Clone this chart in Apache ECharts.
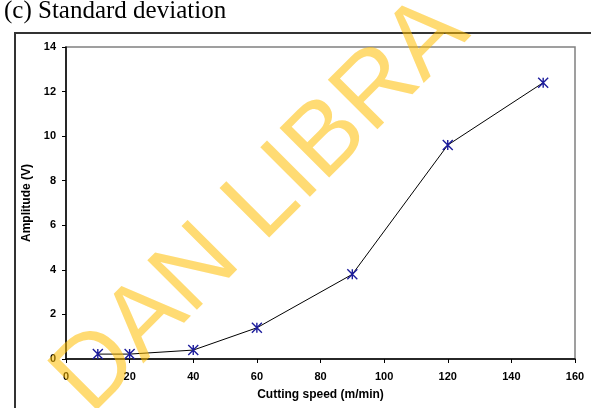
<!DOCTYPE html>
<html>
<head>
<meta charset="utf-8">
<script src="https://cdn.jsdelivr.net/npm/echarts@6/dist/echarts.min.js"></script>
<style>
  html, body { margin: 0; padding: 0; background: #fff; }
  #chart { width: 591px; height: 408px; }
</style>
</head>
<body>
<div id="chart"></div>
<script>
// Cutting speed (m/min) and standard deviation of the signal amplitude (V)
const cuttingSpeed = [10, 20, 40, 60, 90, 120, 150];
const amplitudeStd = [0.22, 0.22, 0.40, 1.40, 3.80, 9.60, 12.40];
const xTicks = [0, 20, 40, 60, 80, 100, 120, 140, 160];
const yTicks = [0, 2, 4, 6, 8, 10, 12, 14];

const chart = echarts.init(document.getElementById('chart'), null, { renderer: 'canvas' });

const labelFont = { fontFamily: 'Liberation Sans, Arial, sans-serif', fontWeight: 'bold', fontSize: 11, color: '#000' };
const nameFont = { fontFamily: 'Liberation Sans, Arial, sans-serif', fontWeight: 'bold', fontSize: 12, color: '#000' };
const starMarker = 'path://M0,0L10,10M10,0L0,10M5,0L5,10';

chart.setOption({
  animation: false,
  backgroundColor: '#fff',
  grid: {
    left: 66, right: 16, top: 47, bottom: 49,
    show: true, borderColor: '#808080', borderWidth: 1.5, backgroundColor: '#fff'
  },
  xAxis: {
    type: 'value',
    min: xTicks[0], max: xTicks[xTicks.length - 1], interval: 20,
    name: 'Cutting speed (m/min)',
    nameLocation: 'middle', nameGap: 30,
    nameTextStyle: nameFont,
    axisLine: { show: true, lineStyle: { color: '#000', width: 1.5 } },
    axisTick: { show: true, inside: false, length: 4, lineStyle: { color: '#000' } },
    axisLabel: Object.assign({ margin: 12 }, labelFont),
    splitLine: { show: false }
  },
  yAxis: {
    type: 'value',
    min: yTicks[0], max: yTicks[yTicks.length - 1], interval: 2,
    name: 'Amplitude (V)',
    nameLocation: 'middle', nameGap: 28,
    nameTextStyle: nameFont,
    axisLine: { show: true, lineStyle: { color: '#000', width: 1.5 } },
    axisTick: { show: true, inside: false, length: 4, lineStyle: { color: '#000' } },
    axisLabel: Object.assign({ margin: 10 }, labelFont),
    splitLine: { show: false }
  },
  series: [{
    type: 'line',
    data: cuttingSpeed.map((s, i) => [s, amplitudeStd[i]]),
    symbol: starMarker,
    symbolSize: 10,
    showAllSymbol: true,
    lineStyle: { color: '#000', width: 1 },
    itemStyle: { color: 'transparent', borderColor: '#1c1c9c', borderWidth: 1.4 },
    z: 3
  }],
  graphic: [
    {
      type: 'text', left: 4, top: -1,
      style: { text: '(c) Standard deviation', font: '25px "Liberation Serif", "Times New Roman", serif', fill: '#000' }
    },
    {
      type: 'polyline', silent: true,
      shape: { points: [[15, 408], [15, 33], [591, 33]] },
      style: { stroke: '#333', lineWidth: 2, fill: 'none' }
    },
    {
      type: 'text', silent: true, z: 100,
      x: 71, y: 396, rotation: Math.PI / 4,
      style: {
        text: 'DAN LIBRA', x: 0, y: 0,
        textAlign: 'left', textVerticalAlign: 'middle',
        font: '102px "Liberation Sans", Arial, sans-serif',
        fill: 'rgba(255, 190, 0, 0.55)'
      }
    }
  ]
});
</script>
</body>
</html>
